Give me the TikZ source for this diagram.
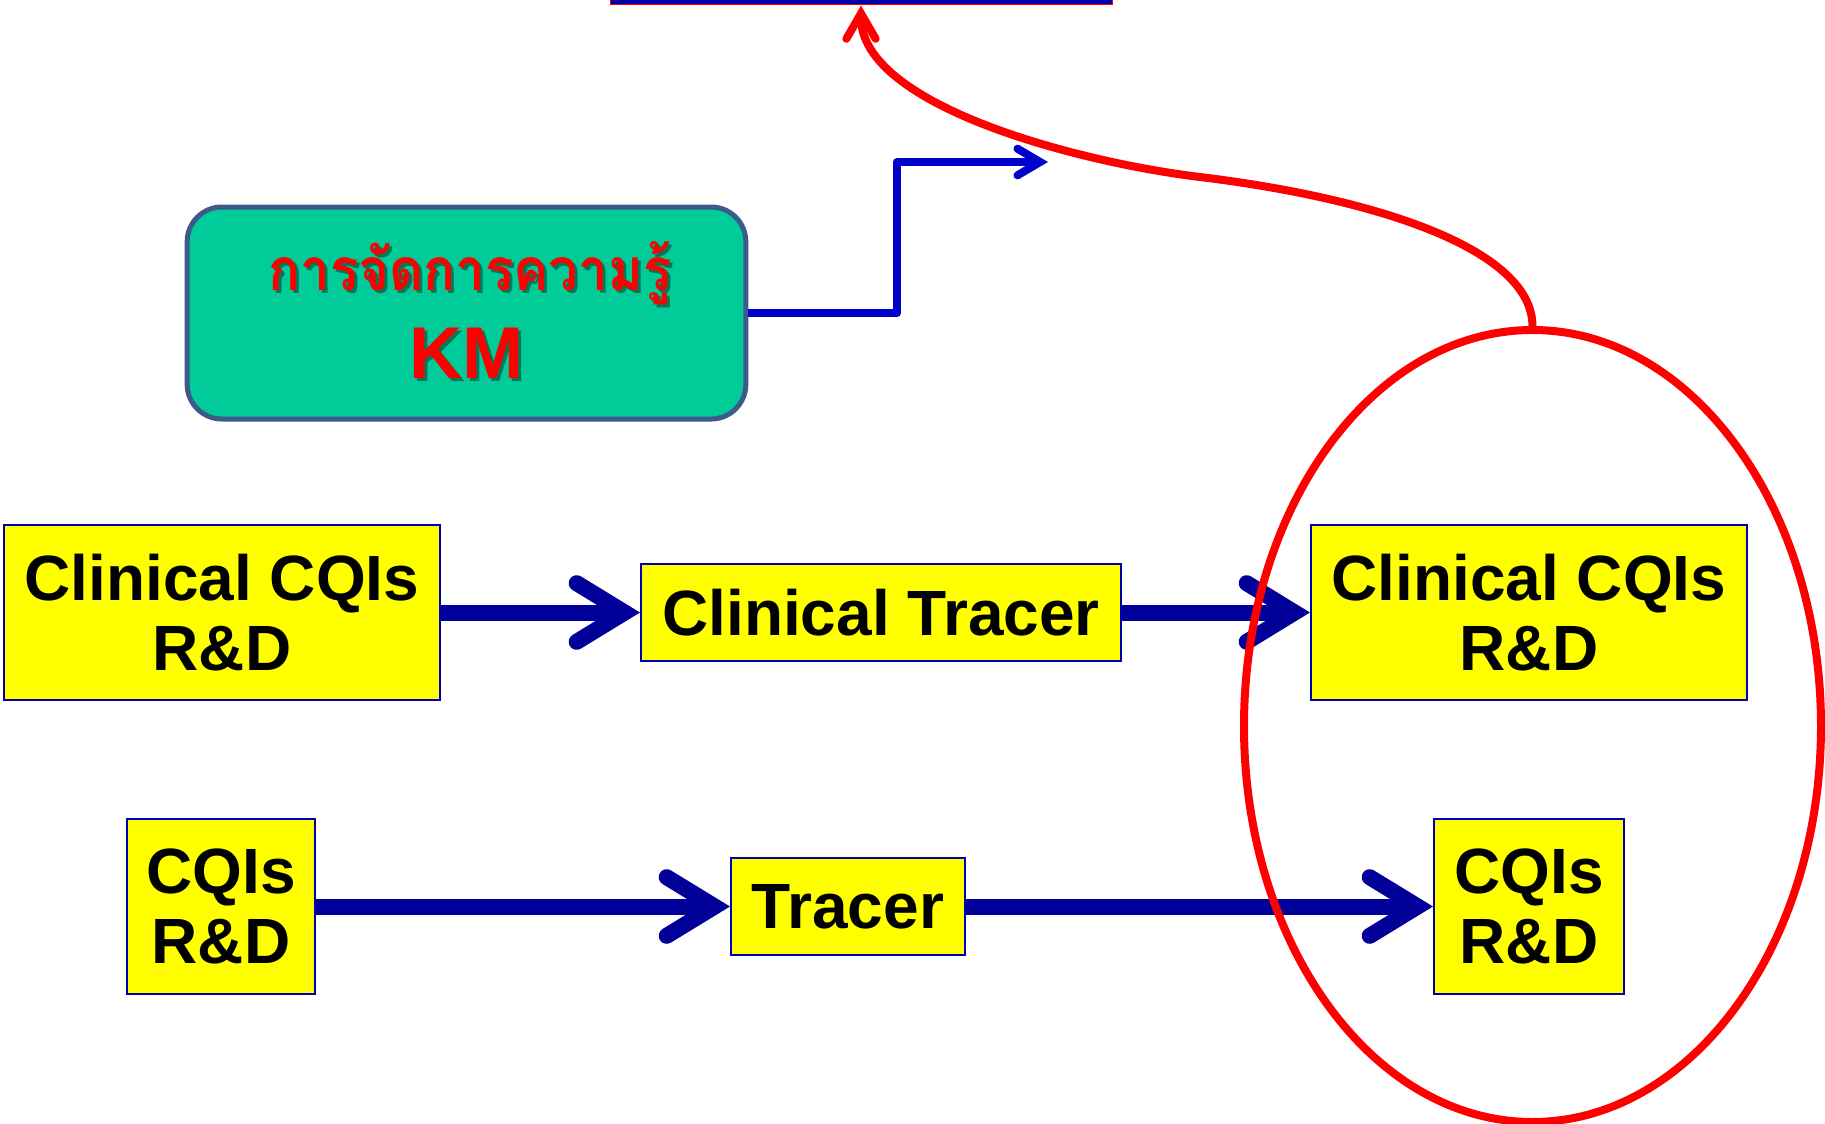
\documentclass[tikz,border=0pt]{standalone}
\usepackage{fontspec}
\setmainfont{Liberation Sans}
\newfontfamily\thaifont[Script=Thai,FakeStretch=0.9]{Loma}
\usetikzlibrary{arrows.meta,shapes.geometric}

\definecolor{boxyellow}{HTML}{FFFF00}
\definecolor{boxedge}{HTML}{0000B0}
\definecolor{flownavy}{HTML}{000099}
\definecolor{linkblue}{HTML}{0000CC}
\definecolor{kmgreen}{HTML}{00CC99}
\definecolor{kmedge}{HTML}{3C5A8A}
\definecolor{alertred}{HTML}{FF0000}
\definecolor{barblue}{HTML}{0000AA}

\begin{document}
\begin{tikzpicture}[x=0.75pt,y=-0.75pt,
  ybox/.style={draw=boxedge, line width=1.5pt, fill=boxyellow, inner sep=0pt,
    align=center, font=\fontsize{48}{52.5}\selectfont\bfseries},
  flow/.style={draw=flownavy, line width=12pt,
    -{Straight Barb[length=36pt,width=44pt,line cap=round,line join=miter]}},
  link/.style={draw=linkblue, line width=6pt, line join=round,
    -{Straight Barb[length=17pt,width=20pt,line cap=round,line join=miter]}},
  redlink/.style={draw=alertred, line width=6pt,
    -{Straight Barb[length=19pt,width=22pt,line cap=round,line join=miter]}},
  thaititle/.style={font=\thaifont\bfseries\fontsize{44}{44}\selectfont, anchor=base, inner sep=0pt},
  kmtitle/.style={font=\bfseries\fontsize{55}{55}\selectfont, anchor=base, inner sep=0pt},
]
\clip (0,0) rectangle (1825,1124);

% target box at the top edge (only its lower border shows)
\node[draw=alertred, fill=barblue, line width=0.75pt, inner sep=0pt,
      minimum width=376.5pt, minimum height=11.25pt] (target) at (861,-2.5) {};

% knowledge management box
\node[draw=kmedge, line width=3.75pt, fill=kmgreen, rounded corners=26pt,
      minimum width=419pt, minimum height=159pt, inner sep=0pt] (km) at (466.5,313) {};
\node[thaititle, text=black, opacity=0.4] (kmthaishadow) at (473,293) {การจัดการความรู้};
\node[thaititle, text=alertred] (kmthai) at (470,290) {การจัดการความรู้};
\node[kmtitle, text=black, opacity=0.4] (kmabbrshadow) at (470,381) {KM};
\node[kmtitle, text=alertred] (kmabbr) at (467,378) {KM};

% first row
\node[ybox, minimum width=327.4pt, minimum height=131.25pt] (cqi1) at (222,612.5) {Clinical CQIs\\R\&D};
\node[ybox, minimum width=360pt, minimum height=72.75pt] (tracer1) at (881,612.5) {Clinical Tracer};
\node[ybox, minimum width=327pt, minimum height=131.25pt] (cqi2) at (1529,612.5) {Clinical CQIs\\R\&D};

% second row
\node[ybox, minimum width=141pt, minimum height=131.25pt] (cqi3) at (221,906.5) {CQIs\\R\&D};
\node[ybox, minimum width=175.5pt, minimum height=72.75pt] (tracer2) at (848,906.5) {Tracer};
\node[ybox, minimum width=142.5pt, minimum height=131.25pt] (cqi4) at (1529,906.5) {CQIs\\R\&D};

% flow arrows
\draw[flow] (cqi1.east) -- (tracer1.west);
\draw[flow] (tracer1.east) -- (cqi2.west);
\draw[flow] (cqi3.east) -- (tracer2.west);
\draw[flow] (tracer2.east) -- (cqi4.west);

% grouping ellipse and its link to the top
\node[draw=alertred, line width=6pt, ellipse, inner sep=0pt,
      minimum width=432.75pt, minimum height=594pt] (group) at (1532.5,726) {};

% link from the KM box
\coordinate (kmturn) at (897,162);
\coordinate (kmtip) at (1048,162);
\draw[link] (km.east) -| (kmturn) -- (kmtip);

\draw[redlink] (group.north) .. controls (1532,250) and (1380,199) .. (1200,177)
  .. controls (1080,162.6) and (861,106) .. (target.south);
\end{tikzpicture}
\end{document}
